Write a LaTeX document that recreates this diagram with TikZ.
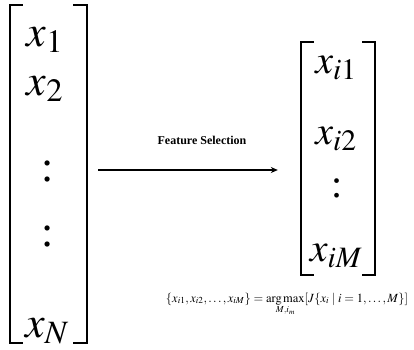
\documentclass[tikz,border=0pt]{standalone}
\usepackage{amsmath}
\usepackage{mathptmx}
\usepackage{fontspec}
\setmainfont{Liberation Serif}
\usetikzlibrary{arrows.meta,positioning,calc}
\tikzset{entry/.style={inner sep=0pt,anchor=base,font=\fontsize{44}{44}\selectfont},subentry/.style={inner sep=0pt,anchor=base,font=\fontsize{40}{40}\selectfont},vec/.style={inner sep=0pt,draw=none},brk/.style={draw=black,line width=1.6pt},arr/.style={-{Stealth[length=7pt,width=6pt]},draw=black,line width=1.1pt}}

\begin{document}
\begin{tikzpicture}[x=1pt,y=-1pt]
\useasboundingbox (0,0) rectangle (414,349);
% full feature vector
\node[vec,minimum width=77pt,minimum height=338pt] (lv) at (48.5,174) {};
\draw[brk] ($(lv.north west)+(13,0)$)--(lv.north west)--(lv.south west)--++(13,0);
\draw[brk] ($(lv.north east)+(-14,0)$)--(lv.north east)--(lv.south east)--++(-14,0);
\node[entry] (x1) at (45,46) {$x_1$};
\node[entry] (x2) at (45,95) {$x_2$};
\node[entry,anchor=center] (d1) at (48,171) {:};
\node[entry,anchor=center] (d2) at (48,236) {:};
\node[entry] (xn) at (47,337) {$x_N$};
% selected subset
\node[vec,minimum width=74pt,minimum height=233pt] (rv) at (338,158.5) {};
\draw[brk] ($(rv.north west)+(13,0)$)--(rv.north west)--(rv.south west)--++(13,0);
\draw[brk] ($(rv.north east)+(-13,0)$)--(rv.north east)--(rv.south east)--++(-13,0);
\node[subentry] (y1) at (336,73) {$x_{i1}$};
\node[subentry] (y2) at (336,144) {$x_{i2}$};
\node[subentry,anchor=center] (d3) at (337,188) {:};
\node[subentry] (ym) at (336,261) {$x_{iM}$};
\draw[arr] ($(lv.east)+(11,-4)$)--node[above=21pt,xshift=14pt,font=\fontsize{12}{13}\selectfont\bfseries]{Feature Selection}($(lv.east -| rv.west)+(-23,-4)$);
\node[anchor=base,font=\fontsize{12.5}{14}\selectfont] (sel) at (287,302) {$\displaystyle\{x_{i1},x_{i2},\ldots,x_{iM}\}=\operatorname*{arg\,max}_{M,i_m}[J\{x_i\mid i=1,\ldots,M\}]$};
\end{tikzpicture}
\end{document}
